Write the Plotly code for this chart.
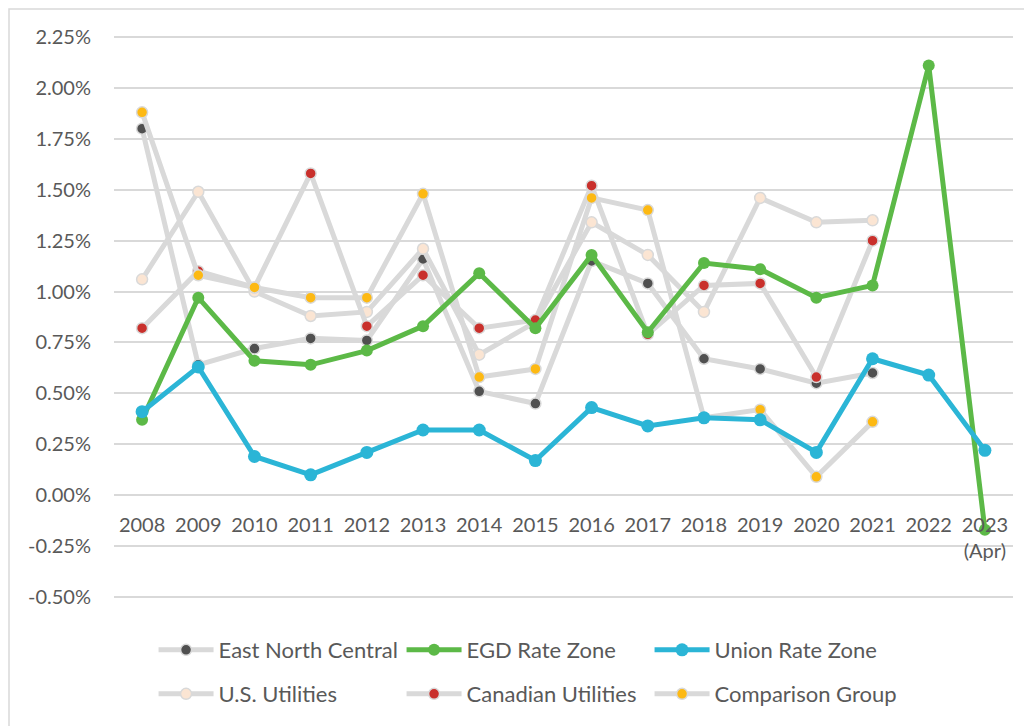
import plotly.graph_objects as go

# categories and values (in percent)
years = ["2008", "2009", "2010", "2011", "2012", "2013", "2014", "2015",
         "2016", "2017", "2018", "2019", "2020", "2021", "2022", "2023"]
year_labels = years[:-1] + ["2023<br>(Apr)"]

east_north_central = [1.80, 0.64, 0.72, 0.77, 0.76, 1.16, 0.51, 0.45,
                      1.15, 1.04, 0.67, 0.62, 0.55, 0.60, None, None]
us_utilities = [1.06, 1.49, 1.00, 0.88, 0.90, 1.21, 0.69, 0.85,
                1.34, 1.18, 0.90, 1.46, 1.34, 1.35, None, None]
canadian_utilities = [0.82, 1.10, 1.02, 1.58, 0.83, 1.08, 0.82, 0.86,
                      1.52, 0.79, 1.03, 1.04, 0.58, 1.25, None, None]
comparison_group = [1.88, 1.08, 1.02, 0.97, 0.97, 1.48, 0.58, 0.62,
                    1.46, 1.40, 0.38, 0.42, 0.09, 0.36, None, None]
egd_rate_zone = [0.37, 0.97, 0.66, 0.64, 0.71, 0.83, 1.09, 0.82,
                 1.18, 0.80, 1.14, 1.11, 0.97, 1.03, 2.11, -0.17]
union_rate_zone = [0.41, 0.63, 0.19, 0.10, 0.21, 0.32, 0.32, 0.17,
                   0.43, 0.34, 0.38, 0.37, 0.21, 0.67, 0.59, 0.22]

y_ticks = [-0.50, -0.25, 0.00, 0.25, 0.50, 0.75, 1.00, 1.25, 1.50, 1.75, 2.00, 2.25]
y_tick_labels = ["%.2f%%" % v for v in y_ticks]  # plain hyphen for negatives, like Excel

GRID = "#d9d9d9"
TEXT = "#595959"
FONT = "Lato"

fig = go.Figure()

# grey comparison series go underneath
grey_series = [
    ("East North Central", east_north_central, "#505050", "legend"),
    ("U.S. Utilities", us_utilities, "#fbe5d3", "legend2"),
    ("Canadian Utilities", canadian_utilities, "#c9302c", "legend2"),
    ("Comparison Group", comparison_group, "#fdb913", "legend2"),
]
for name, vals, mcolor, leg in grey_series:
    fig.add_trace(go.Scatter(
        x=years, y=vals, name=name, mode="lines+markers", legend=leg,
        line=dict(color=GRID, width=5),
        marker=dict(color=mcolor, size=11, line=dict(color=GRID, width=1.5)),
    ))

fig.add_trace(go.Scatter(
    x=years, y=egd_rate_zone, name="EGD Rate Zone", mode="lines+markers",
    legend="legend",
    line=dict(color="#5cb947", width=5),
    marker=dict(color="#5cb947", size=12),
))
fig.add_trace(go.Scatter(
    x=years, y=union_rate_zone, name="Union Rate Zone", mode="lines+markers",
    legend="legend",
    line=dict(color="#2bb5d6", width=5),
    marker=dict(color="#2bb5d6", size=13),
))

# the page body has an 8px margin, so the figure is 8px smaller than the window
W, H = 1024, 718
ML, MR, MT, MB = 106, 19, 28, 128
PW, PH = W - ML - MR, H - MT - MB

ymin, ymax = -0.505, 2.255
legend_common = dict(
    orientation="h", xanchor="left", yanchor="middle",
    x=0.044, entrywidth=178, entrywidthmode="pixels", itemwidth=55,
    font=dict(family=FONT, size=22, color=TEXT), bgcolor="rgba(0,0,0,0)",
)

fig.update_layout(
    width=W, height=H,
    margin=dict(l=ML, r=MR, t=MT, b=MB, autoexpand=False),
    paper_bgcolor="white", plot_bgcolor="white",
    font=dict(family=FONT, size=20, color=TEXT),
    legend=dict(legend_common, y=-52 / PH),
    legend2=dict(legend_common, y=-96 / PH),
    shapes=[dict(type="rect", xref="paper", yref="paper",
                 x0=(1 - ML) / PW, x1=(W + 20 - ML) / PW,
                 y0=-(MB + 20) / PH, y1=(PH + MT - 1) / PH,
                 line=dict(color=GRID, width=1.5), fillcolor="rgba(0,0,0,0)",
                 layer="below")],
)

fig.update_xaxes(
    type="category", range=[-0.5, len(years) - 0.5],
    tickmode="array", tickvals=years, ticktext=year_labels,
    anchor="free", position=(0 - ymin) / (ymax - ymin), automargin=False,
    showgrid=False, showline=False, zeroline=False,
    ticks="outside", ticklen=12, tickcolor="rgba(0,0,0,0)",
    tickfont=dict(family=FONT, size=20, color=TEXT),
)
fig.update_yaxes(
    range=[ymin, ymax], tickmode="array", tickvals=y_ticks, ticktext=y_tick_labels,
    showgrid=True, gridcolor=GRID, gridwidth=1.5, zeroline=False, showline=False,
    automargin=False,
    ticks="outside", ticklen=18, tickcolor="rgba(0,0,0,0)",
    tickfont=dict(family=FONT, size=20, color=TEXT),
)

fig.write_html("out.html")
